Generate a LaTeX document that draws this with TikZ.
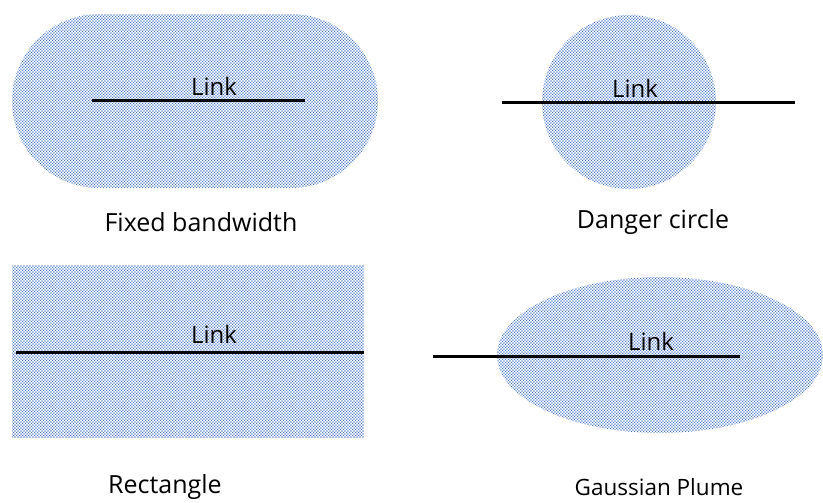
\documentclass[tikz,border=0pt]{standalone}
\usepackage{fontspec}
\setmainfont{Open Sans}
\usetikzlibrary{patterns.meta}
\definecolor{dotblue}{RGB}{70,118,200}
\pgfdeclarepattern{
  name=bluedots,
  type=uncolored,
  bottom left={\pgfpoint{0pt}{0pt}},
  top right={\pgfpoint{3.4pt}{3.4pt}},
  tile size={\pgfpoint{3.4pt}{3.4pt}},
  code={
    \pgfpathrectangle{\pgfpoint{0pt}{0pt}}{\pgfpoint{1.4pt}{1.4pt}}
    \pgfpathrectangle{\pgfpoint{1.7pt}{1.7pt}}{\pgfpoint{1.4pt}{1.4pt}}
    \pgfusepath{fill}
  }
}
\tikzset{
  area/.style={pattern=bluedots, pattern color=dotblue, draw=none},
  link/.style={line width=3pt, black},
  lbl/.style={font=\fontsize{24}{28}\selectfont, inner sep=0pt},
  captxt/.style={font=\fontsize{25}{30}\selectfont, inner sep=0pt}
}
\begin{document}
\begin{tikzpicture}[x=1pt,y=-1pt]
\useasboundingbox (0,0) rectangle (823,503);
% Fixed bandwidth (stadium)
\fill[area] (99,14) -- (291,14) arc[start angle=-90,end angle=90,radius=87] -- (99,188) arc[start angle=90,end angle=270,radius=87] -- cycle;
\coordinate (a1) at (92,101);
\coordinate (a2) at (305,101);
\draw[link] (a1) -- (a2);
\node[lbl] (la) at (214,86) {Link};
\node[captxt] (ca) at (201,222) {Fixed bandwidth};
% Danger circle
\fill[area] (629,102) circle[radius=87];
\coordinate (b1) at (502,103);
\coordinate (b2) at (795,103);
\draw[link] (b1) -- (b2);
\node[lbl] (lb) at (635,88) {Link};
\node[captxt] (cb) at (653,222) {Danger circle};
% Rectangle
\fill[area] (12,265) rectangle (364,437);
\coordinate (c1) at (16,352);
\coordinate (c2) at (364,352);
\draw[link] (c1) -- (c2);
\node[lbl] (lc) at (214,334) {Link};
\node[captxt] (cc) at (165,487) {Rectangle};
% Gaussian plume
\fill[area] (660,355) ellipse[x radius=163, y radius=78];
\coordinate (d1) at (433,356);
\coordinate (d2) at (740,356);
\draw[link] (d1) -- (d2);
\node[lbl] (ld) at (651,341) {Link};
\node[captxt, font=\fontsize{22.5}{27}\selectfont] (cd) at (659,487) {Gaussian Plume};
\end{tikzpicture}
\end{document}
